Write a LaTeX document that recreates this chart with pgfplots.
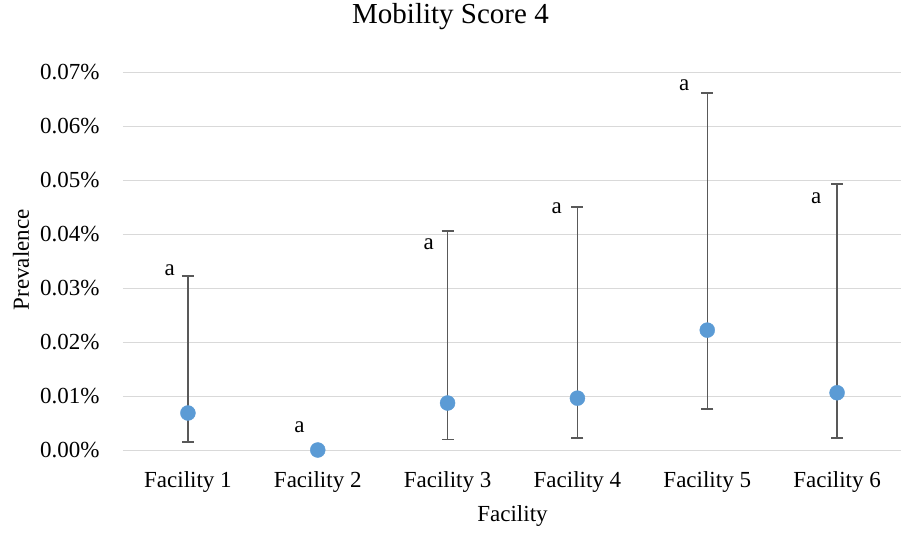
\documentclass[border=0pt]{standalone}
\usepackage{pgfplots}
\pgfplotsset{compat=1.18}
\usepackage{fontspec}
\setmainfont{Liberation Serif}
\definecolor{ptblue}{HTML}{5B9BD5}
\definecolor{errgray}{HTML}{595959}
\definecolor{gridgray}{HTML}{D9D9D9}
\begin{document}
\begin{tikzpicture}
\useasboundingbox (-123pt,-85pt) rectangle (778pt,450pt);
\begin{axis}[
  scale only axis,
  width=779pt, height=378pt,
  xmin=-0.5, xmax=5.5,
  ymin=0, ymax=0.07,
  xtick={0,1,2,3,4,5},
  xticklabels={Facility 1,Facility 2,Facility 3,Facility 4,Facility 5,Facility 6},
  ytick={0,0.01,0.02,0.03,0.04,0.05,0.06,0.07},
  scaled y ticks=false,
  yticklabel={\pgfmathprintnumber[fixed,fixed zerofill,precision=2]{\tick}\%},
  /pgf/number format/assume math mode=true,
  major tick length=0pt,
  axis line style={draw=none},
  ymajorgrids,
  grid style={gridgray, line width=1pt},
  tick label style={font=\fontsize{23}{26}\selectfont},
  xticklabel style={anchor=base, yshift=-37pt},
  yticklabel style={anchor=base east, xshift=-20pt, yshift=-7.5pt},
  title={Mobility Score 4},
  title style={at={(0.4204,1)}, anchor=base, yshift=42pt, font=\fontsize{29}{32}\selectfont},
  xlabel={Facility},
  xlabel style={at={(0.5,0)}, anchor=base, yshift=-71.7pt, font=\fontsize{23}{26}\selectfont},
  ylabel={Prevalence},
  ylabel style={at={(-0.1207,0.503)}, anchor=base, font=\fontsize{23}{26}\selectfont},
  clip=false,
]
\addplot[
  only marks, mark=*, mark size=7.5pt,
  mark options={fill=ptblue, draw=ptblue},
  error bars/.cd,
    y dir=both, y explicit,
    error bar style={errgray, line width=1.5pt},
    error mark options={errgray, line width=1.5pt, mark size=6pt, rotate=90},
] table[x=x, y=y, y error plus=ep, y error minus=em] {
x y ep em
0 0.00685 0.02535 0.00535
1 0.0 0.0 0.0
2 0.0087 0.0319 0.0068
3 0.0096 0.0354 0.0074
4 0.0222 0.0439 0.0146
5 0.0106 0.0387 0.0084
};
\addplot[
  draw=none, mark=none,
  nodes near coords={a},
  every node near coord/.append style={anchor=center, font=\fontsize{23}{26}\selectfont},
] coordinates {
(-0.14,0.0333) (0.86,0.00426) (1.854,0.0381) (2.84,0.0448) (3.823,0.0676) (4.84,0.0467)
};
\end{axis}
\end{tikzpicture}
\end{document}
